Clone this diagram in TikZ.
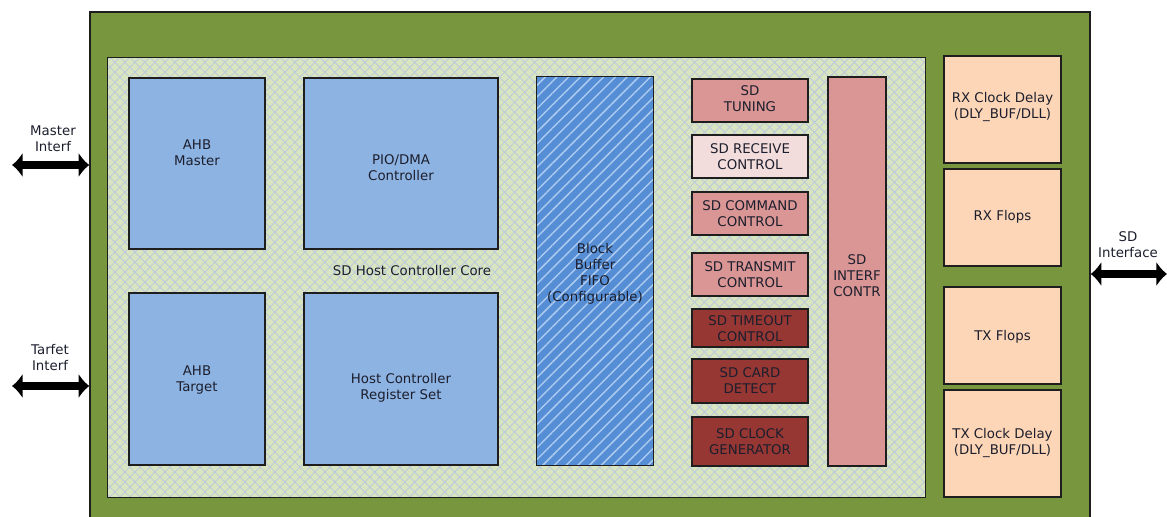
\documentclass[tikz,border=0pt]{standalone}
\usepackage{fontspec}
\setmainfont{DejaVu Sans}
\usetikzlibrary{fit,patterns.meta,arrows.meta}
\definecolor{outergreen}{RGB}{119,150,61}
\definecolor{hatchbg}{RGB}{216,229,192}
\definecolor{hatchline}{RGB}{186,198,224}
\definecolor{bluebox}{RGB}{141,179,226}
\definecolor{bufblue}{RGB}{85,142,213}
\definecolor{bufstripe}{RGB}{172,202,240}
\definecolor{pinkbox}{RGB}{217,150,148}
\definecolor{lightpink}{RGB}{242,221,220}
\definecolor{darkred}{RGB}{150,55,52}
\definecolor{peach}{RGB}{252,214,182}
\definecolor{edge}{RGB}{30,30,30}
\definecolor{txt}{RGB}{28,30,45}
\begin{document}
\begin{tikzpicture}[x=0.75pt,y=-0.75pt,
  blk/.style={fit={#1}, inner sep=0pt, draw=edge, line width=1.1pt},
  bluebk/.style={blk={#1}, fill=bluebox},
  pinkbk/.style={blk={#1}, fill=pinkbox},
  lpinkbk/.style={blk={#1}, fill=lightpink},
  redbk/.style={blk={#1}, fill=darkred},
  peachbk/.style={blk={#1}, fill=peach},
  lbl/.style={align=center, text=txt, inner sep=0pt, font=\fontsize{10}{12}\selectfont},
  bigarrow/.style={line width=6pt, {Latex[length=8pt,width=19pt]}-{Latex[length=8pt,width=19pt]}}
]
\useasboundingbox (0,0) rectangle (1167,517);
% outer green
\node[fit={(90,12) (1090,530)}, inner sep=0pt, fill=outergreen, draw=edge, line width=1.1pt] (outer) {};
% inner core with crosshatch
\node[fit={(108,58) (925,497)}, inner sep=0pt, fill=hatchbg] (core) {};
\fill[pattern={Lines[angle=45,distance=5.3pt,line width=0.55pt]}, pattern color=hatchline] (108,58) rectangle (925,497);
\fill[pattern={Lines[angle=-45,distance=5.3pt,line width=0.55pt]}, pattern color=hatchline] (108,58) rectangle (925,497);
\draw[draw=edge, line width=1.1pt] (core.north west) rectangle (core.south east);
\node[lbl] (corelbl) at (412,271) {SD Host Controller Core};
% blue boxes
\node[bluebk={(129,78) (265,249)}] (ahbm) {};
\node[bluebk={(129,293) (265,465)}] (ahbt) {};
\node[bluebk={(304,78) (498,249)}] (pio) {};
\node[bluebk={(304,293) (498,465)}] (reg) {};
\node[lbl] (ahbmT) at (197,153) {AHB\\Master};
\node[lbl] (ahbtT) at (197,380) {AHB\\Target};
\node[lbl] (pioT) at (401,167.5) {PIO/DMA\\Controller};
\node[lbl] (regT) at (401,387.5) {Host Controller\\Register Set};
% block buffer
\node[fit={(537,77) (653,465)}, inner sep=0pt, fill=bufblue] (buf) {};
\fill[pattern={Lines[angle=45,distance=6.2pt,line width=1.1pt]}, pattern color=bufstripe] (537,77) rectangle (653,465);
\draw[draw=edge, line width=1.1pt] (buf.north west) rectangle (buf.south east);
\node[lbl] (bufT) at (595,274) {Block\\Buffer\\FIFO\\(Configurable)};
% SD blocks
\node[pinkbk={(692,79) (808,122)}] (tun) {};
\node[lpinkbk={(692,135) (808,178)}] (rcv) {};
\node[pinkbk={(692,192) (808,235)}] (cmd) {};
\node[pinkbk={(692,253) (808,296)}] (tx) {};
\node[redbk={(692,309) (808,347)}] (tmo) {};
\node[redbk={(692,359) (808,403)}] (card) {};
\node[redbk={(692,417) (808,466)}] (clk) {};
\node[pinkbk={(828,77) (886,466)}] (intf) {};
\node[lbl] (tunT) at (750,99) {SD\\TUNING};
\node[lbl] (rcvT) at (750,157) {SD RECEIVE\\CONTROL};
\node[lbl] (cmdT) at (750,214) {SD COMMAND\\CONTROL};
\node[lbl] (txT) at (750,275) {SD TRANSMIT\\CONTROL};
\node[lbl] (tmoT) at (750,328.5) {SD TIMEOUT\\CONTROL};
\node[lbl] (cardT) at (750,381) {SD CARD\\DETECT};
\node[lbl] (clkT) at (750,442) {SD CLOCK\\GENERATOR};
\node[lbl] (intfT) at (857,276) {SD\\INTERF\\CONTR};
% right peach
\node[peachbk={(944,56) (1061,163)}] (rxd) {};
\node[peachbk={(944,169) (1061,266)}] (rxf) {};
\node[peachbk={(944,287) (1061,384)}] (txf) {};
\node[peachbk={(944,390) (1061,497)}] (txd) {};
\node[lbl] (rxdT) at (1002.5,107) {RX Clock Delay\\(DLY\_BUF/DLL)};
\node[lbl] (rxfT) at (1002.5,217) {RX Flops};
\node[lbl] (txfT) at (1002.5,337) {TX Flops};
\node[lbl] (txdT) at (1002.5,443) {TX Clock Delay\\(DLY\_BUF/DLL)};
% arrows
\coordinate (mA) at (12,165);
\coordinate (tA) at (12,386);
\coordinate (sA) at (1167,274);
\draw[bigarrow] (mA) -- (outer.west |- mA);
\draw[bigarrow] (tA) -- (outer.west |- tA);
\draw[bigarrow] (outer.east |- sA) -- (sA);
\node[lbl] (mlbl) at (53,139) {Master\\Interf};
\node[lbl] (tlbl) at (50,358) {Tarfet\\Interf};
\node[lbl] (slbl) at (1128,244.5) {SD\\Interface};
\end{tikzpicture}
\end{document}
